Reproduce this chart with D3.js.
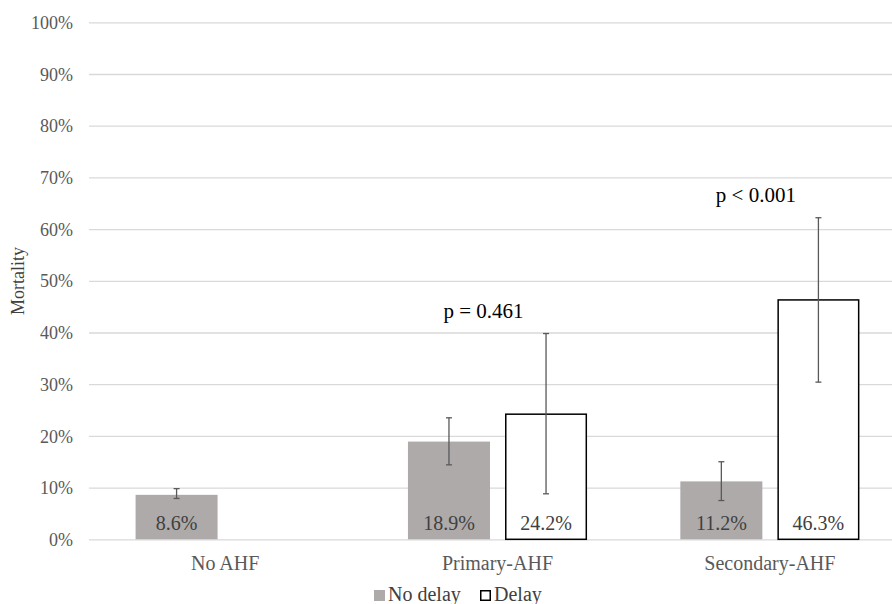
<!DOCTYPE html>
<html>
<head>
<meta charset="utf-8">
<script src="https://cdn.jsdelivr.net/npm/d3@7"></script>
<style>
  body { margin: 0; background: #fff; }
  svg { display: block; }
  svg text { font-family: "Liberation Serif", "Times New Roman", Times, serif; }
</style>
</head>
<body>
<div id="chart"></div>
<script>
// data
const categories = ["No AHF", "Primary-AHF", "Secondary-AHF"];
const seriesNames = ["No delay", "Delay"];
const noDelay = [8.6, 18.9, 11.2];
const delay = [null, 24.2, 46.3];
const noDelayErr = [[7.9, 9.8], [14.4, 23.5], [7.5, 15.0]];
const delayErr = [null, [8.8, 39.8], [30.4, 62.2]];
const pLabels = [null, "p = 0.461", "p < 0.001"];
const yTicks = [0, 10, 20, 30, 40, 50, 60, 70, 80, 90, 100];

const width = 892, height = 604;
const plotLeft = 89, plotRight = 906, plotTop = 22.3, plotBottom = 539.3;

const svg = d3.select("#chart").append("svg")
    .attr("width", width)
    .attr("height", height);

const y = d3.scaleLinear().domain([0, 100]).range([plotBottom, plotTop]);
const x0 = d3.scaleBand().domain(categories).range([plotLeft, plotRight])
    .paddingInner(0.3425).paddingOuter(0.171);
const x1 = d3.scaleBand().domain(seriesNames).range([0, x0.bandwidth()])
    .paddingInner(0.155);

// gridlines + tick labels
const yAxis = d3.axisLeft(y).tickValues(yTicks)
    .tickSize(-(plotRight - plotLeft))
    .tickPadding(16)
    .tickFormat(d => d + "%");
const ga = svg.append("g").attr("transform", `translate(${plotLeft},0)`).call(yAxis);
ga.select(".domain").remove();
ga.attr("font-family", null);
ga.selectAll(".tick line").attr("stroke", "#d9d9d9").attr("stroke-width", 1.3);
ga.selectAll(".tick text")
    .attr("fill", "#595959")
    .attr("font-size", 18)
    .attr("dy", "0.34em");

// rows for drawing
const rows = [];
categories.forEach((c, i) => {
    rows.push({ cat: c, s: "No delay", v: noDelay[i], err: noDelayErr[i] });
    if (delay[i] != null) rows.push({ cat: c, s: "Delay", v: delay[i], err: delayErr[i] });
});

const bx = d => x0(d.cat) + x1(d.s);

svg.append("g").selectAll("rect")
    .data(rows)
    .join("rect")
    .attr("x", d => bx(d) + (d.s === "Delay" ? 0.75 : 0))
    .attr("y", d => y(d.v))
    .attr("width", d => x1.bandwidth() - (d.s === "Delay" ? 1.5 : 0))
    .attr("height", d => plotBottom - y(d.v))
    .attr("fill", d => d.s === "Delay" ? "#ffffff" : "#aeaaaa")
    .attr("stroke", d => d.s === "Delay" ? "#000" : "none")
    .attr("stroke-width", 1.5);

// error bars
const eb = svg.append("g").attr("stroke", "#595959").attr("stroke-width", 1.3);
rows.forEach(d => {
    const cx = bx(d) + x1.bandwidth() / 2;
    eb.append("line").attr("x1", cx).attr("x2", cx).attr("y1", y(d.err[0])).attr("y2", y(d.err[1]));
    d.err.forEach(e => {
        eb.append("line").attr("x1", cx - 3).attr("x2", cx + 3).attr("y1", y(e)).attr("y2", y(e));
    });
});

// value labels
svg.append("g").selectAll("text")
    .data(rows)
    .join("text")
    .attr("x", d => bx(d) + x1.bandwidth() / 2)
    .attr("y", plotBottom - 9)
    .attr("text-anchor", "middle")
    .attr("font-size", 20)
    .attr("fill", "#404040")
    .text(d => d.v.toFixed(1) + "%");

// category labels
svg.append("g").selectAll("text")
    .data(categories)
    .join("text")
    .attr("x", d => x0(d) + x0.bandwidth() / 2)
    .attr("y", 570)
    .attr("text-anchor", "middle")
    .attr("font-size", 20)
    .attr("fill", "#595959")
    .text(d => d);

// p-values above the delay error bars
categories.forEach((c, i) => {
    if (!pLabels[i]) return;
    svg.append("text")
        .attr("x", x0(c) + x0.bandwidth() / 2 - 14)
        .attr("y", y(delayErr[i][1]) - 16)
        .attr("text-anchor", "middle")
        .attr("font-size", 21)
        .attr("fill", "#000")
        .text(pLabels[i]);
});

// y title
svg.append("text")
    .attr("transform", "translate(24,281) rotate(-90)")
    .attr("text-anchor", "middle")
    .attr("font-size", 18)
    .attr("fill", "#404040")
    .text("Mortality");

// legend
const leg = svg.append("g");
const legX = [374, 480];
seriesNames.forEach((s, i) => {
    leg.append("rect")
        .attr("x", legX[i] + (i ? 0.75 : 0)).attr("y", 590 + (i ? 0.75 : 0))
        .attr("width", i ? 9.5 : 11).attr("height", i ? 9.5 : 11)
        .attr("fill", i ? "#fff" : "#aeaaaa")
        .attr("stroke", i ? "#000" : "none")
        .attr("stroke-width", 1.5);
    leg.append("text")
        .attr("x", legX[i] + 14)
        .attr("y", 601)
        .attr("font-size", 20)
        .attr("fill", "#404040")
        .text(s);
});
</script>
</body>
</html>
